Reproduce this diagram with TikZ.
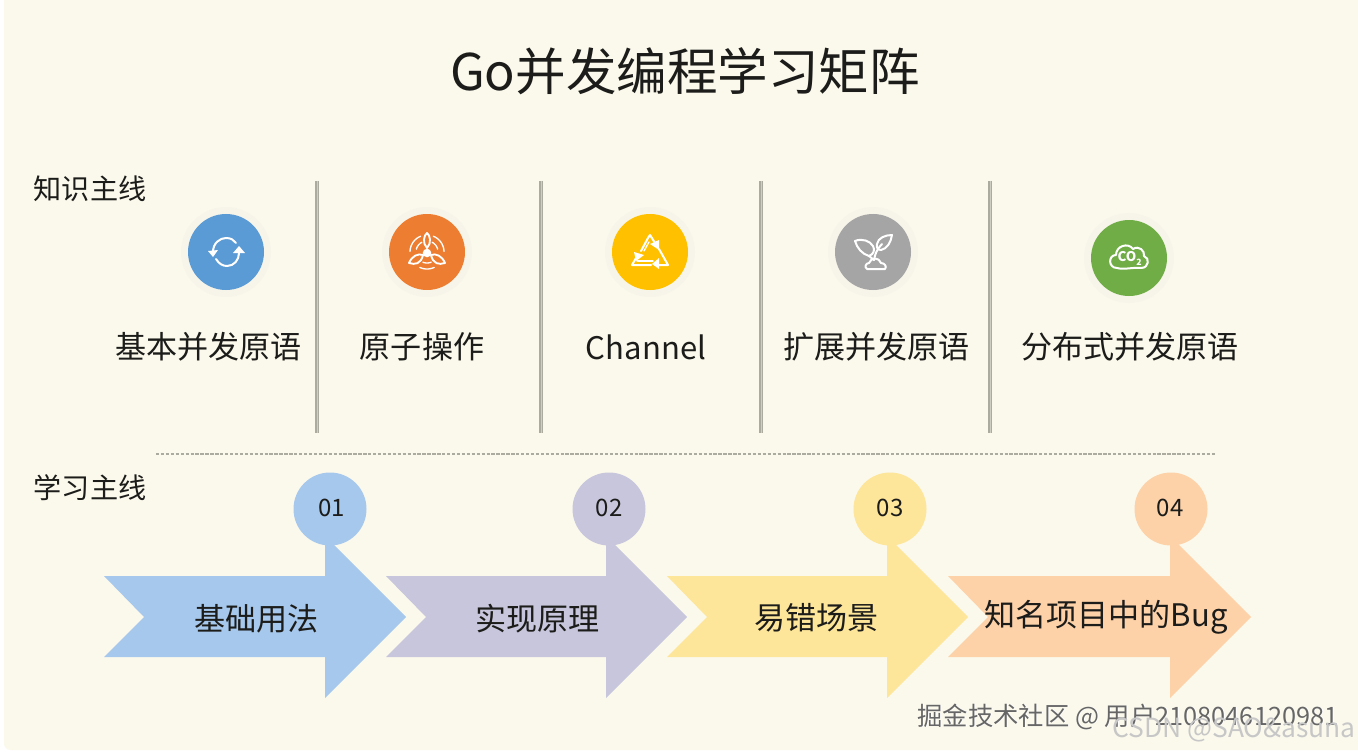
\documentclass[tikz,border=0pt]{standalone}
\usepackage{fontspec}
\setmainfont{Noto Sans CJK SC}
\usetikzlibrary{arrows.meta}
\definecolor{bgc}{HTML}{FBF9EC}
\definecolor{halo}{HTML}{F7F5EA}
\definecolor{txt}{HTML}{1C1C1A}
\definecolor{ablue}{HTML}{A6C8EC}
\definecolor{apurple}{HTML}{C7C6DC}
\definecolor{ayellow}{HTML}{FDE59A}
\definecolor{aorange}{HTML}{FDD2A9}
\definecolor{iblue}{HTML}{5B9BD5}
\definecolor{iorange}{HTML}{ED7D31}
\definecolor{iyellow}{HTML}{FFC000}
\definecolor{igray}{HTML}{A5A5A5}
\definecolor{igreen}{HTML}{70AD47}
\definecolor{sepc}{HTML}{ABABA0}
\tikzset{
  x=0.75pt,y=-0.75pt,
  titletext/.style={font=\fontsize{37.9}{42}\selectfont,text=txt,inner sep=0},
  sidetext/.style={font=\fontsize{21.1}{25}\selectfont,text=txt,inner sep=0},
  itemtext/.style={font=\fontsize{23.3}{27}\selectfont,text=txt,inner sep=0},
  numtext/.style={font=\fontsize{18}{22}\selectfont,text=txt,inner sep=0},
  halodisc/.style={circle,fill=halo,minimum size=67.5pt,inner sep=0},
  icondisc/.style={circle,minimum size=57pt,inner sep=0},
  numdisc/.style={circle,minimum size=54.75pt,inner sep=0},
  sepline/.style={draw=sepc,line width=2.6pt},
  iconline/.style={draw=white,line width=1.5pt,line cap=round,line join=round},
}
\newcommand{\arrowshape}[3]{% left x, head x, colour
  \fill[#3] (#1,576) -- ({#1+40},617) -- (#1,657) -- (#2,657) -- (#2,698)
    -- ({#2+81},617) -- (#2,536) -- (#2,576) -- cycle;}
\newcommand{\polararc}[3]{% radius, start, end (degrees, counter-clockwise on the page)
  \draw[iconline,line width=1pt] plot[domain=#2:#3,samples=14,smooth] ({#1*cos(\x)},{-#1*sin(\x)});}
\begin{document}
\begin{tikzpicture}
\useasboundingbox (0,0) rectangle (1358,752);
\fill[white] (0,0) rectangle (1358,752);
\fill[bgc,rounded corners=5pt] (4,-8) rectangle (1366,750);

\node[titletext] (title) at (685,71) {Go并发编程学习矩阵};
\node[sidetext] (side1) at (90,189) {知识主线};
\node[sidetext] (side2) at (90,488) {学习主线};

% separators
\foreach \n/\xx in {a/317,b/541,c/761,d/990}{
  \coordinate (sep\n t) at (\xx,181);
  \coordinate (sep\n b) at (\xx,433);
  \draw[sepline] (sep\n t) -- (sep\n b);
  \draw[draw=bgc!45!sepc,line width=0.5pt] (sep\n t) -- (sep\n b);
}
\coordinate (dashl) at (156,454);
\coordinate (dashr) at (1215,454);
\draw[draw=sepc,line width=0.8pt,dash pattern=on 2.5pt off 1.2pt] (dashl) -- (dashr);

% icon discs
\foreach \n/\xx/\yy/\cc in {i1/226/252/iblue,i2/427/252/iorange,i3/650/252/iyellow,i4/873/252/igray,i5/1129/258/igreen}{
  \node[halodisc] at (\xx,\yy) {};
  \node[icondisc,fill=\cc] (\n) at (\xx,\yy) {};
}

% sync icon
\begin{scope}[shift={(i1.center)}]
  \draw[iconline] (-13,0) .. controls (-13,-9) and (-6,-14) .. (0,-14) .. controls (5,-14) and (8,-12) .. (10,-9);
  \draw[iconline] (-10,7) .. controls (-7,12) and (-3,14) .. (1,14) .. controls (8,14) and (13,8) .. (13,1);
  \fill[white] (-18,-1) -- (-8,-2) -- (-13,5) -- cycle;
  \fill[white] (7,1) -- (19,1) -- (13,-6) -- cycle;
\end{scope}

% fan icon
\begin{scope}[shift={(i2.center)}]
  \draw[iconline,line width=1.4pt] (0,-4) .. controls (-5,-9) and (-3,-17) .. (0,-19) .. controls (3,-17) and (5,-9) .. (0,-4) -- cycle;
  \draw[iconline,line width=1.4pt] (-4,3) .. controls (-9,1) and (-15,4) .. (-18,11) .. controls (-12,13) and (-6,12) .. (-4,3) -- cycle;
  \draw[iconline,line width=1.4pt] (4,3) .. controls (9,1) and (15,4) .. (18,11) .. controls (12,13) and (6,12) .. (4,3) -- cycle;
  \fill[white] (0,1) circle[radius=3.2pt];
  \polararc{17}{112}{178}
  \polararc{17}{2}{68}
  \polararc{11}{118}{165}
  \polararc{11}{15}{62}
  \polararc{11}{-112}{-68}
  \polararc{17}{-115}{-65}
\end{scope}

% recycle icon
\begin{scope}[shift={(i3.center)}]
  \draw[iconline] (-9,-1) -- (-2,-14) -- (0,-17) -- (5,-9);
  \draw[iconline] (9,-3) -- (18,13) -- (7,13);
  \draw[iconline] (1,13) -- (-18,13) -- (-14,6);
  \draw[iconline,line width=1pt] (-13,9) -- (3,9);
  \draw[iconline,line width=1pt] (-6,-1) -- (-1,-10);
  \fill[white] (0,-8) -- (9,-12) -- (9,-2) -- cycle;
  \fill[white] (-16,0) -- (-6,3) -- (-14,9) -- cycle;
  \fill[white] (2,12) -- (9,6) -- (9,17) -- cycle;
\end{scope}

% sprout icon
\begin{scope}[shift={(i4.center)}]
  \draw[iconline] (-18,-11) .. controls (-11,-14) and (-3,-11) .. (0,-6) .. controls (2,-2) and (1,2) .. (-4,4) .. controls (-11,2) and (-16,-4) .. (-18,-11) -- cycle;
  \draw[iconline] (19,-17) .. controls (12,-17) and (5,-14) .. (4,-8) .. controls (3,-4) and (5,-2) .. (8,-2) .. controls (14,-3) and (18,-10) .. (19,-17) -- cycle;
  \draw[iconline] (1,8) .. controls (2,2) and (4,-3) .. (9,-8);
  \draw[iconline] (-4,4) -- (1,8);
  \draw[iconline] (-6,17) .. controls (-9,15) and (-7,11) .. (-4,11) .. controls (-2,5) and (6,5) .. (8,11) .. controls (12,11) and (14,15) .. (12,17) -- cycle;
\end{scope}

% CO2 icon
\begin{scope}[shift={(i5.center)}]
  \draw[iconline] (-12,10) .. controls (-21,10) and (-21,-3) .. (-13,-3) .. controls (-13,-12) and (-1,-16) .. (4,-9) .. controls (10,-13) and (16,-7) .. (15,-2) .. controls (21,0) and (20,10) .. (12,10) .. controls (5,9) and (-5,12) .. (-12,10) -- cycle;
  \node[font=\fontsize{10}{11}\selectfont\bfseries,text=white,inner sep=0] (co) at (-2,-1) {CO};
  \node[font=\fontsize{6.5}{7}\selectfont\bfseries,text=white,inner sep=0] (two) at (10,4) {2};
\end{scope}

% item labels
\node[itemtext] (t1) at (208.5,347) {基本并发原语};
\node[itemtext] (t2) at (422,347) {原子操作};
\node[itemtext] (t3) at (646,347) {Channel};
\node[itemtext] (t4) at (876.5,347) {扩展并发原语};
\node[itemtext] (t5) at (1130,347) {分布式并发原语};

% arrows
\arrowshape{104}{325}{ablue}
\arrowshape{386}{606}{apurple}
\arrowshape{667}{887}{ayellow}
\arrowshape{948}{1170}{aorange}

\node[numdisc,fill=ablue] (n1) at (330,509) {};
\node[numdisc,fill=apurple] (n2) at (609,509) {};
\node[numdisc,fill=ayellow] (n3) at (890,509) {};
\node[numdisc,fill=aorange] (n4) at (1171,509) {};
\node[numtext] at (331.5,508) {01};
\node[numtext] at (609,508) {02};
\node[numtext] at (890,508) {03};
\node[numtext] at (1170,508) {04};

\node[itemtext] (a1) at (256.5,619) {基础用法};
\node[itemtext] (a2) at (537.5,619) {实现原理};
\node[itemtext] (a3) at (816.5,618) {易错场景};
\node[itemtext] (a4) at (1106,617) {知名项目中的Bug};

% watermarks
\node[font=\fontsize{19}{22}\selectfont,text=white,inner sep=0] at (1128.8,717.3) {掘金技术社区 @ 用户2108046120981};
\node[font=\fontsize{19}{22}\selectfont,text=black!60,inner sep=0] (wm) at (1128,716.5) {掘金技术社区 @ 用户2108046120981};
\node[font=\fontsize{19.8}{22}\selectfont,text=black!22,inner sep=0] (csdn) at (1234,730) {CSDN @SAO\&asuna};
\end{tikzpicture}
\end{document}
